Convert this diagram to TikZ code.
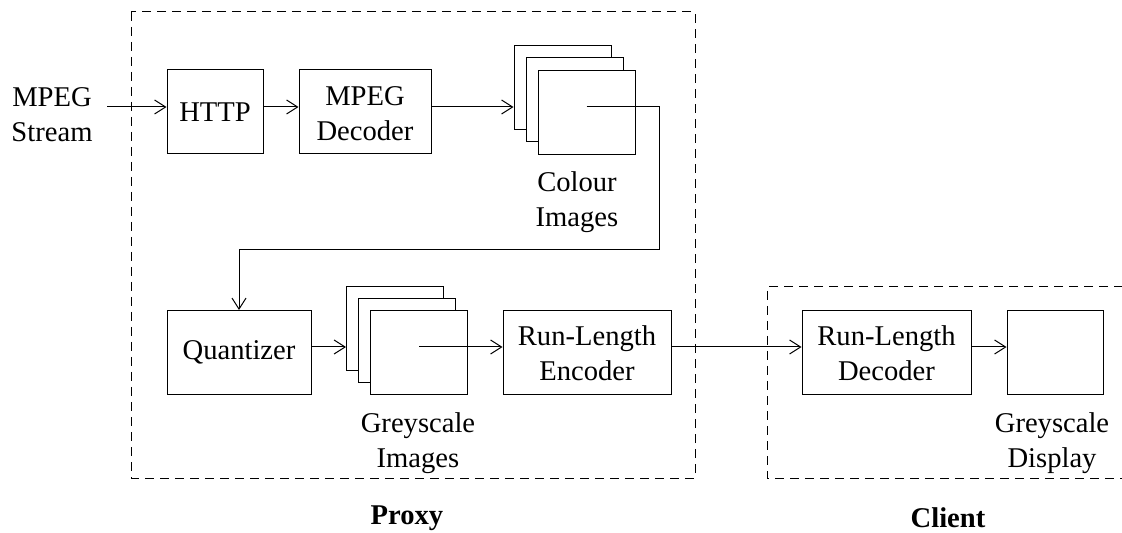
\documentclass[tikz,border=0pt]{standalone}
\usepackage{fontspec}
\setmainfont{Liberation Serif}
\usetikzlibrary{arrows.meta,calc}

% two centred lines of text, with extra room above so they sit a little low in their box
\newcommand\twolines[2]{\begin{tabular}{@{}c@{}}\rule{0pt}{16.25pt}#1\\#2\end{tabular}}

\begin{document}
\begin{tikzpicture}[
  x=0.5pt, y=-0.5pt,
  line width=0.5pt,
  every node/.style={font=\fontsize{14.3}{17.5}\selectfont, inner sep=0pt},
  block/.style={draw, rectangle, fill=white, minimum height=42pt, align=center},
  frame/.style={draw, rectangle, fill=white, minimum width=48.5pt, minimum height=42pt},
  label/.style={align=center},
  group/.style={dash pattern=on 4.5pt off 3pt},
  arr/.style={-{Straight Barb[length=5.5pt,width=7pt]}},
  title/.style={font=\fontsize{14.3}{17.5}\selectfont\bfseries}
]
\useasboundingbox (0,0) rectangle (1122,533);

% signal rows
\coordinate (r1) at (0,107);
\coordinate (r2) at (0,347);

% proxy and client areas
\draw[group] (131,12) rectangle (695,478);
\draw[group] (1123,287) -- (767,287) -- (767,478) -- (1123,478);
\node[title] (proxy) at (407,518) {Proxy};
\node[title] (client) at (948,518) {Client};

% input
\node[label] (stream) at (52,115) {MPEG\\Stream};
\coordinate (src) at (107,107);

% top row
\node[block, minimum width=48pt] (http) at (215,112) {HTTP};
\node[block, minimum width=66pt] (mdec) at (365,112) {\twolines{MPEG}{Decoder}};

% colour image stack
\node[frame] (cback) at (562.5,88) {};
\node[frame] (cmid) at (575,100) {};
\node[frame] (cfront) at (586.5,112.5) {};
\node[label] (clabel) at (577,202) {Colour\\Images};

% bottom row
\node[block, minimum width=72pt] (quant) at (239,352.5) {Quantizer};
\node[frame] (gback) at (395,328.5) {};
\node[frame] (gmid) at (407,340.5) {};
\node[frame] (gfront) at (419,352.5) {};
\node[label] (glabel) at (418,443) {Greyscale\\Images};
\node[block, minimum width=84pt] (renc) at (587,352.5) {\twolines{Run-Length}{Encoder}};
\node[block, minimum width=84.5pt] (rdec) at (886.5,352.5) {\twolines{Run-Length}{Decoder}};
\node[block, minimum width=48pt] (disp) at (1055,352.5) {};
\node[label] (dlabel) at (1052,443) {Greyscale\\Display};

% connectors
\draw[arr] (src) -- (src -| http.west);
\draw[arr] (http.east |- r1) -- (mdec.west |- r1);
\draw[arr] (mdec.east |- r1) -- (cback.west |- r1);
\coordinate (turn) at (659,250);
\draw[arr] (cfront.center |- r1) -| (turn) -| (quant.north);
\draw[arr] (quant.east |- r2) -- (gback.west |- r2);
\draw[arr] (gfront.center |- r2) -- (renc.west |- r2);
\draw[arr] (renc.east |- r2) -- (rdec.west |- r2);
\draw[arr] (rdec.east |- r2) -- (disp.west |- r2);
\end{tikzpicture}
\end{document}
